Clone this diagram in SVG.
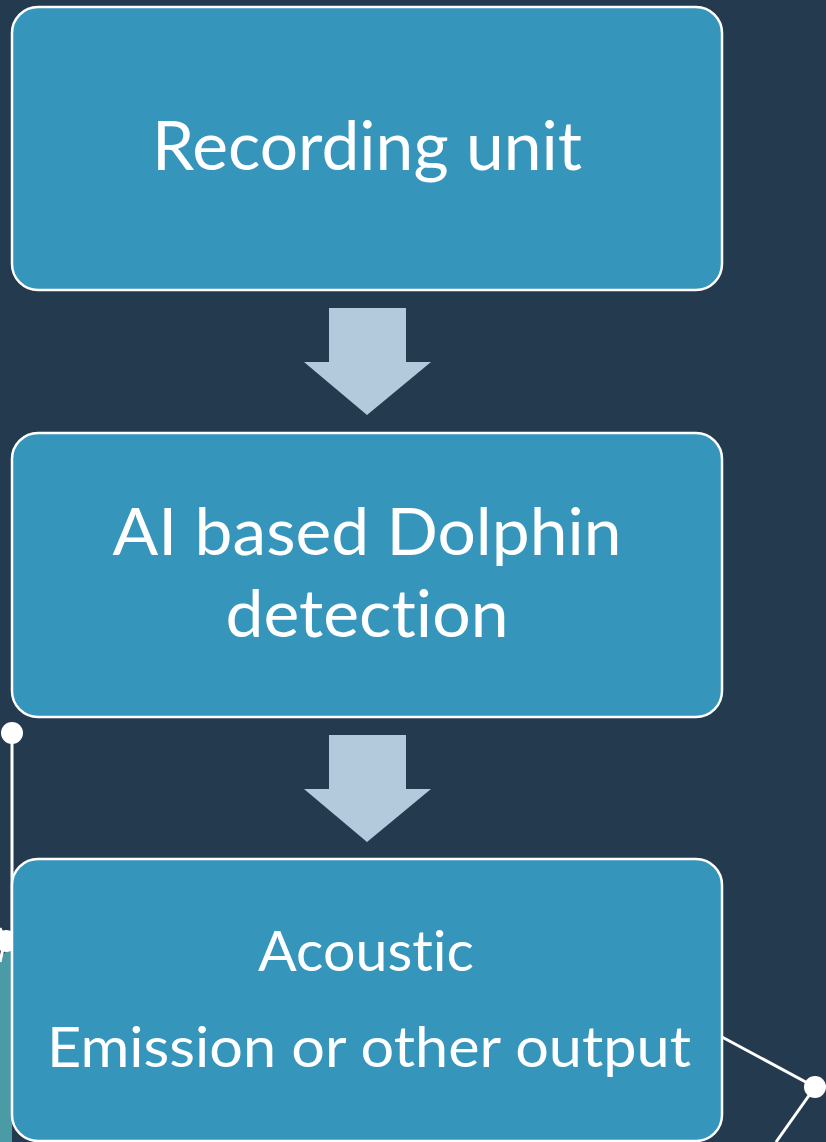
<svg xmlns="http://www.w3.org/2000/svg" width="826" height="1142" viewBox="0 0 826 1142">
<style>
.box{fill:#3595bb;stroke:#ffffff;stroke-width:2.5}
.arrow{fill:#b3c9dc}
.t{font-family:Lato,"Open Sans","Liberation Sans",sans-serif;fill:#ffffff;text-anchor:middle;font-variant-ligatures:none;font-feature-settings:"liga" 0}
.deco{stroke:#ffffff;stroke-width:3;fill:none}
.dot{fill:#ffffff}
</style>
<rect width="826" height="1142" fill="#243a4f"/>
<g id="decoration">
<polygon points="12,945 12,1142 0,1142 0,958" fill="#4a9ba5"/>
<line class="deco" x1="12" y1="733" x2="12" y2="945"/>
<line class="deco" x1="5" y1="940" x2="0" y2="928"/>
<line class="deco" x1="5" y1="940" x2="0" y2="962"/>
<circle class="dot" cx="12" cy="733" r="11"/>
<circle class="dot" cx="6" cy="941" r="11"/>
<line class="deco" x1="722" y1="1037" x2="815" y2="1087"/>
<line class="deco" x1="815" y1="1087" x2="776" y2="1142"/>
<circle class="dot" cx="815" cy="1087" r="11"/>
</g>
<g id="connectors">
<polygon class="arrow" points="329,308 406,308 406,362 431,362 367,415 304,362 329,362"/>
<polygon class="arrow" points="329,735 406,735 406,789 431,789 367,842 304,789 329,789"/>
</g>
<g id="node-recording">
<rect class="box" x="12" y="7" width="710" height="283" rx="26"/>
<text class="t" x="367" y="170" font-size="67" textLength="430" lengthAdjust="spacingAndGlyphs">Recording unit</text>
</g>
<g id="node-detection">
<rect class="box" x="12" y="433" width="710" height="284" rx="26"/>
<text class="t" x="367" y="555" font-size="66" textLength="509" lengthAdjust="spacingAndGlyphs">AI based Dolphin</text>
<text class="t" x="367" y="637" font-size="66" textLength="283" lengthAdjust="spacingAndGlyphs">detection</text>
</g>
<g id="node-output">
<rect class="box" x="12" y="859" width="710" height="282" rx="26"/>
<text class="t" x="366" y="971" font-size="56" textLength="216" lengthAdjust="spacingAndGlyphs">Acoustic</text>
<text class="t" x="369" y="1067" font-size="56" textLength="644" lengthAdjust="spacingAndGlyphs">Emission or other output</text>
</g>
</svg>
